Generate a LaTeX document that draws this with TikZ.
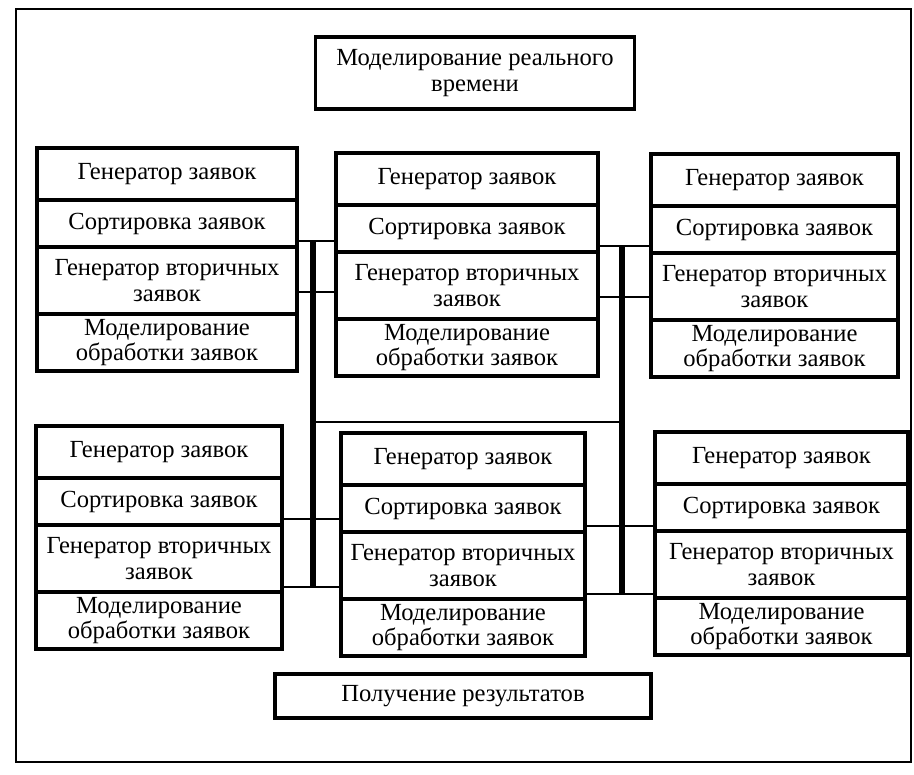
\documentclass[tikz,border=0pt]{standalone}
\usepackage{fontspec}
\setmainfont{Liberation Serif}
\usetikzlibrary{positioning,calc}

\tikzset{
  cell/.style={draw, line width=2.6pt, outer sep=0pt, inner sep=0pt, align=center,
    font=\fontsize{21}{22}\selectfont},
  link/.style={line width=2.4pt},
  bus/.style={line width=5pt},
  frame/.style={line width=2pt}
}

\begin{document}
\begin{tikzpicture}[x=0.03cm,y=-0.03cm]
  \useasboundingbox (0,0) rectangle (914,774);
  \draw[frame] (16,9) rectangle (911,762);
  % top and bottom boxes
  \node[cell, minimum width=319*0.03cm, minimum height=72*0.03cm] (time) at (475,73)
    {Моделирование реального\\времени};
  \node[cell, minimum width=376*0.03cm, minimum height=44*0.03cm] (result) at (463,696)
    {Получение результатов};
  % six blocks
  \foreach \n/\x/\y/\w in {tl/37/148/260, tm/336/153/262, tr/651/154/247,
                           bl/36/426/246, bm/341/433/244, br/655/432/253} {
    \node[cell, anchor=north west, minimum width=\w*0.03cm, minimum height=52*0.03cm]
      (\n-1) at (\x,\y) {Генератор заявок};
    \node[cell, below=0pt of \n-1, minimum width=\w*0.03cm, minimum height=47*0.03cm]
      (\n-2) {Сортировка заявок};
    \node[cell, below=0pt of \n-2, minimum width=\w*0.03cm, minimum height=67*0.03cm]
      (\n-3) {Генератор вторичных\\заявок};
    \node[cell, below=0pt of \n-3, minimum width=\w*0.03cm, minimum height=57*0.03cm]
      (\n-4) {Моделирование\\обработки заявок};
  }
  % connectors between neighbours
  \foreach \a/\b/\d in {tl/tm/22, tm/tr/22, bl/bm/5, bm/br/5} {
    \draw[link] ($(\a-3.north east)+(0,-6)$) coordinate (\a\b-up) -- (\a\b-up -| \b-3.west);
    \draw[link] ($(\a-3.south east)+(0,-\d)$) coordinate (\a\b-lo) -- (\a\b-lo -| \b-3.west);
  }
  % buses
  \coordinate (busL) at (313,0);
  \coordinate (busR) at (622,0);
  \coordinate (mid) at (0,422);
  \draw[bus] (tltm-up -| busL) -- (blbm-lo -| busL);
  \draw[bus] (tmtr-up -| busR) -- (bmbr-lo -| busR);
  \draw[link] (busL |- mid) -- (busR |- mid);
\end{tikzpicture}
\end{document}
